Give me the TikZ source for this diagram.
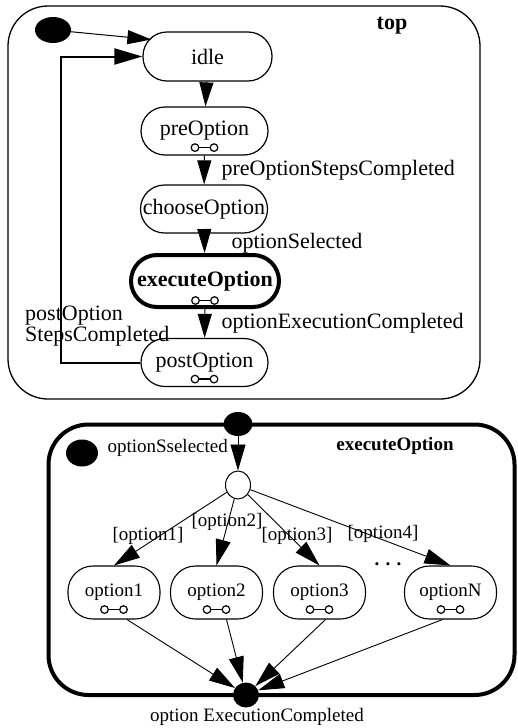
\documentclass[tikz,border=0pt]{standalone}
\usepackage{fontspec}
\setmainfont{Liberation Serif}
\usetikzlibrary{arrows.meta,shapes.geometric,calc}

\begin{document}
\begin{tikzpicture}[x=1pt,y=-1pt,
  bigtext/.style={font=\fontsize{22}{19}\selectfont},
  smalltext/.style={font=\fontsize{19}{21}\selectfont},
  state/.style={draw, line width=1.2pt, rounded corners=24pt, inner sep=0pt,
    minimum width=127pt, minimum height=48pt, bigtext},
  optstate/.style={draw, line width=1.1pt, rounded corners=25pt, inner sep=0pt,
    minimum width=92pt, minimum height=53pt, smalltext},
  blackdot/.style={ellipse, fill=black, inner sep=0pt},
  arr/.style={-{Triangle[length=24pt,width=14pt]}, line width=1pt},
  arrsmall/.style={-{Triangle[length=26pt,width=15pt]}, line width=0.9pt},
  sub/.pic={
    \draw[line width=1.4pt] (-6,0) -- (6,0);
    \draw[line width=1.2pt, fill=white] (-9.5,0) circle[radius=3.8pt];
    \draw[line width=1.2pt, fill=white] (9.5,0) circle[radius=3.8pt];
  }
]
\useasboundingbox (0,0) rectangle (517,728);

% ---------- top-level machine ----------
\node[draw, line width=1.3pt, rounded corners=40pt, minimum width=472pt,
  minimum height=393pt, inner sep=0pt] (topframe) at (244,202.5) {};
\node[bigtext, font=\fontsize{22}{24}\selectfont\bfseries] (toplabel) at (392,26) {top};

\node[blackdot, minimum width=36pt, minimum height=26pt] (init) at (53,30) {};

\node[state, minimum width=129pt, minimum height=49pt] (idle) at (207.5,56.5) {idle};
\node[state] (preOption) at (204.5,131) {preOption};
\node[state] (chooseOption) at (204,209) {chooseOption};
\node[state, line width=4pt, minimum width=148pt, minimum height=52pt,
  rounded corners=26pt, font=\fontsize{22}{24}\selectfont\bfseries]
  (executeOption) at (205,281) {executeOption};
\node[state] (postOption) at (204.5,362.5) {postOption};

\pic at ([yshift=8pt]preOption.south) {sub};
\pic at ([yshift=8.5pt]executeOption.south) {sub};
\pic at ([yshift=8pt]postOption.south) {sub};

\draw[arr] (init) -- ([xshift=9pt,yshift=17pt]idle.west);
\draw[arr] (idle) -- (preOption);
\draw[arr] (preOption) -- (chooseOption);
\draw[arr] (chooseOption) -- (executeOption);
\draw[arr] (executeOption) -- (postOption);
\draw[-{Triangle[length=28pt,width=16pt]}, line width=2pt]
  (postOption.west) -- ++(-79,0) |- (idle.west);

\node[bigtext, anchor=west] (lblPre) at (218,170) {preOptionStepsCompleted};
\node[bigtext, anchor=west] (lblSel) at (228,243) {optionSelected};
\node[bigtext, anchor=west] (lblExe) at (218,323) {optionExecutionCompleted};
\node[bigtext, anchor=west, align=left, inner sep=0pt] (lblPost) at (25,326)
  {postOption\\StepsCompleted};

% ---------- executeOption sub-machine ----------
\node[draw, line width=4pt, rounded corners=40pt, minimum width=466pt,
  minimum height=270.5pt, inner sep=0pt] (subframe) at (281.5,559.75) {};
\node[smalltext, font=\fontsize{19}{21}\selectfont\bfseries] (sublabel) at (395,446) {executeOption};

\node[blackdot, minimum width=29pt, minimum height=24pt] (entry) at (238,424) {};
\node[blackdot, minimum width=32pt, minimum height=27pt] (subinit) at (82,453) {};
\node[smalltext, anchor=west] (lblSsel) at (104,448) {optionSselected};

\node[ellipse, draw, line width=1pt, fill=white, inner sep=0pt,
  minimum width=25pt, minimum height=28pt] (choice) at (238,485) {};

\node[optstate] (option1) at (114,592.5) {option1};
\node[optstate] (option2) at (216.5,592.5) {option2};
\node[optstate] (option3) at (319.5,592.5) {option3};
\node[optstate] (optionN) at (450.5,592.5) {optionN};
\node[smalltext, font=\fontsize{19}{21}\selectfont\bfseries] (more) at (388,564) {. . .};

\foreach \n in {option1,option2,option3,optionN}
  \pic at ([yshift=10pt]\n.south) {sub};

\node[blackdot, minimum width=26pt, minimum height=25pt] (final) at (246,695) {};
\node[smalltext] (lblFinal) at (257,717) {option ExecutionCompleted};

\draw[arrsmall] (entry) -- (choice);
\draw[arrsmall] (choice) -- (option1.north);
\draw[arrsmall] (choice) -- (option2.north);
\draw[arrsmall] (choice) -- (option3.north);
\draw[arrsmall] (choice) -- (optionN.north);

\node[smalltext] (g1) at (148,536) {[option1]};
\node[smalltext] (g2) at (227,522) {[option2]};
\node[smalltext] (g3) at (297,536) {[option3]};
\node[smalltext] (g4) at (383,534) {[option4]};

\draw[arrsmall] ([xshift=13pt]option1.south) -- (final);
\draw[arrsmall] ([xshift=10pt]option2.south) -- (final);
\draw[arrsmall] ([xshift=6pt]option3.south) -- (final);
\draw[arrsmall] ([xshift=-8pt]optionN.south) -- (final);
\end{tikzpicture}
\end{document}
